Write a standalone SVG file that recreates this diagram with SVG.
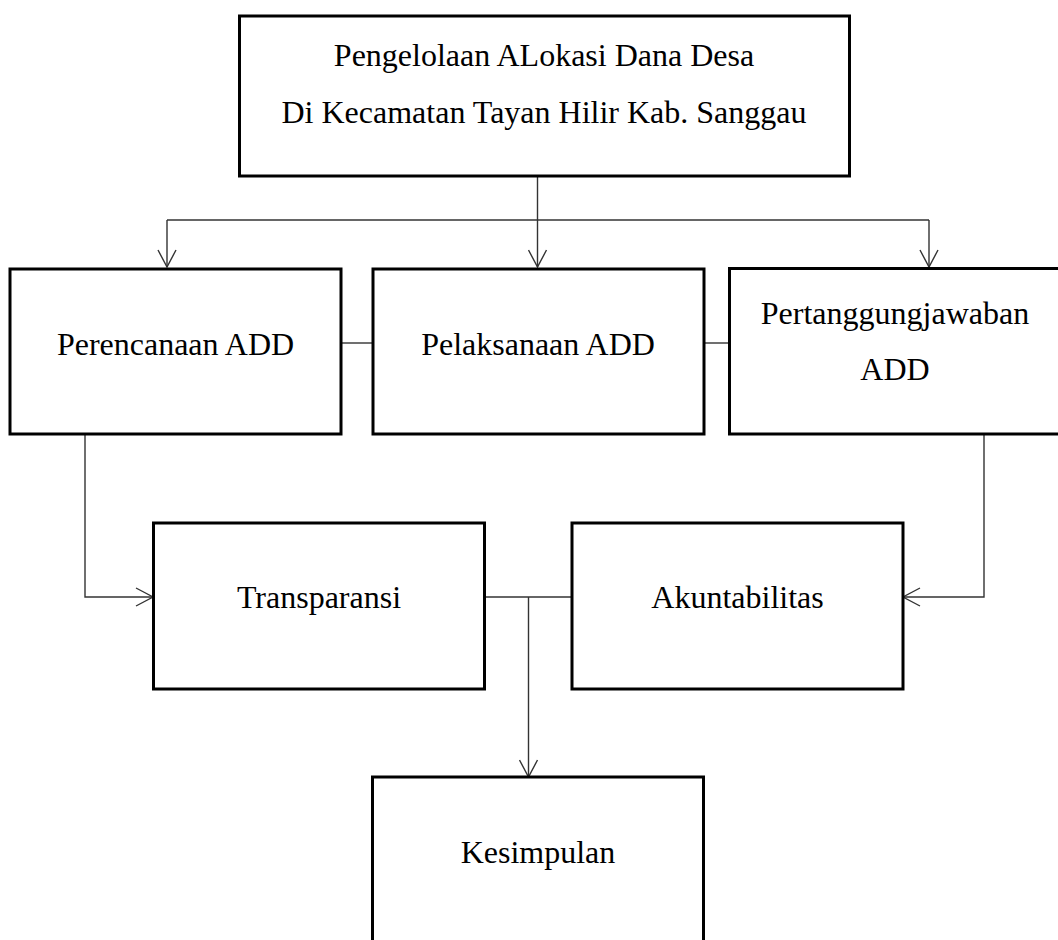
<svg xmlns="http://www.w3.org/2000/svg" width="1058" height="940" viewBox="0 0 1058 940">
<style>
.box{fill:#fff;stroke:#000;stroke-width:3}
.t{font-family:"Liberation Serif","Times New Roman",serif;font-size:32px;fill:#000;text-anchor:middle}
.c{fill:none;stroke:#333;stroke-width:1.4}
</style>
<defs>
<marker id="arr" viewBox="-18 -10 20 20" refX="0" refY="0" markerWidth="20" markerHeight="20" markerUnits="userSpaceOnUse" orient="auto">
<path d="M-17,-9 L0,0 L-17,9" fill="none" stroke="#333" stroke-width="1.4"/>
</marker>
</defs>
<rect width="1058" height="940" fill="#fff"/>
<g id="connectors">
<path class="c" d="M537.5,177 V220"/>
<path class="c" d="M167,220 H929"/>
<path class="c" d="M167,220 V267" marker-end="url(#arr)"/>
<path class="c" d="M537.5,220 V267" marker-end="url(#arr)"/>
<path class="c" d="M929,220 V267" marker-end="url(#arr)"/>
<path class="c" d="M341,343 H372"/>
<path class="c" d="M704,343 H729"/>
<path class="c" d="M85,435 V597 H153" marker-end="url(#arr)"/>
<path class="c" d="M984,435 V597 H903" marker-end="url(#arr)"/>
<path class="c" d="M484,597 H572"/>
<path class="c" d="M528.5,597 V777" marker-end="url(#arr)"/>
</g>
<g id="n-top">
<rect class="box" x="239.5" y="16" width="610" height="160"/>
<text class="t" x="544" y="66">Pengelolaan ALokasi Dana Desa</text>
<text class="t" x="544" y="123">Di Kecamatan Tayan Hilir Kab. Sanggau</text>
</g>
<g id="n-perencanaan">
<rect class="box" x="10" y="269" width="331" height="165"/>
<text class="t" x="175.5" y="355">Perencanaan ADD</text>
</g>
<g id="n-pelaksanaan">
<rect class="box" x="373" y="269" width="331" height="165"/>
<text class="t" x="538" y="355">Pelaksanaan ADD</text>
</g>
<g id="n-pertanggungjawaban">
<rect class="box" x="729.5" y="268.5" width="332" height="165.5"/>
<text class="t" x="895" y="324">Pertanggungjawaban</text>
<text class="t" x="895" y="380">ADD</text>
</g>
<g id="n-transparansi">
<rect class="box" x="153.5" y="523" width="331" height="166"/>
<text class="t" x="319" y="608">Transparansi</text>
</g>
<g id="n-akuntabilitas">
<rect class="box" x="572" y="523" width="331" height="166"/>
<text class="t" x="737.5" y="608">Akuntabilitas</text>
</g>
<g id="n-kesimpulan">
<rect class="box" x="372.5" y="777" width="331" height="180"/>
<text class="t" x="538" y="863">Kesimpulan</text>
</g>
</svg>
